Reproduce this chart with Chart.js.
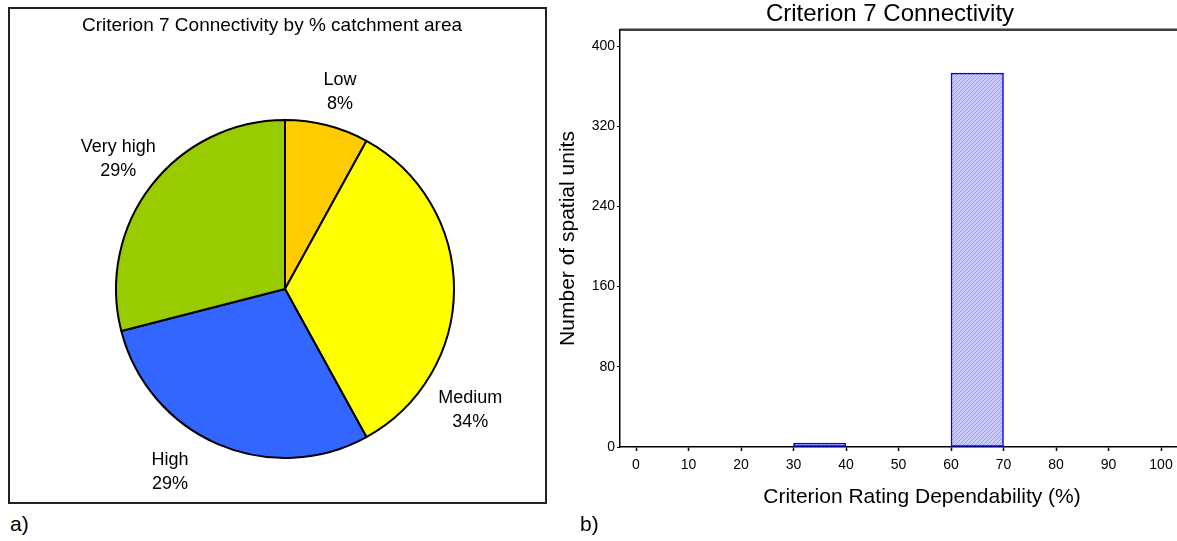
<!DOCTYPE html>
<html>
<head>
<meta charset="utf-8">
<title>Criterion 7 Connectivity</title>
<script src="https://cdn.jsdelivr.net/npm/chart.js@4.4.1/dist/chart.umd.min.js"></script>
<style>
  html, body { margin: 0; padding: 0; background: #fff; width: 1177px; height: 541px; overflow: hidden; }
  body { position: relative; font-family: "Liberation Sans", Arial, sans-serif; }
  #pieBox { position: absolute; left: 8px; top: 7px; width: 535px; height: 493px; border: 2px solid #222; }
  #pieCanvas { position: absolute; left: 0; top: 0; }
  #barCanvas { position: absolute; left: 556px; top: 0; }
  .tag { position: absolute; font-size: 21px; color: #000; line-height: 24px; }
</style>
</head>
<body>
<div id="pieBox"></div>
<canvas id="pieCanvas" width="560" height="510"></canvas>
<canvas id="barCanvas" width="668" height="541"></canvas>
<div class="tag" style="left:10px; top:512px;">a)</div>
<div class="tag" style="left:580px; top:512px;">b)</div>

<script>
// ---- Panel a: share of catchment area per connectivity class ----
const pieCategories = ['Low', 'Medium', 'High', 'Very high'];
const pieShares = [8, 34, 29, 29];
const pieColours = ['#FFCC00', '#FFFF00', '#3366FF', '#99CC00'];

// ---- Panel b: histogram of criterion rating dependability ----
const binStarts = [0, 10, 20, 30, 40, 50, 60, 70, 80, 90];
const binEnds = [10, 20, 30, 40, 50, 60, 70, 80, 90, 100];
const unitCounts = [0, 0, 0, 4, 0, 0, 373, 0, 0, 0];
const xTickValues = [0, 10, 20, 30, 40, 50, 60, 70, 80, 90, 100];
const yTickValues = [0, 80, 160, 240, 320, 400];

const FONT = '"Liberation Sans", Arial, sans-serif';

// Heading drawn at a fixed spot inside the framed panel
const panelHeading = {
  id: 'panelHeading',
  afterDraw(chart, args, opts) {
    const ctx = chart.ctx;
    ctx.save();
    ctx.font = opts.size + 'px ' + FONT;
    ctx.fillStyle = '#000';
    ctx.textAlign = 'center';
    ctx.textBaseline = 'middle';
    ctx.fillText(opts.text, opts.x, opts.y);
    ctx.restore();
  }
};

// Two-line category / percentage labels outside each slice
const sliceLabels = {
  id: 'sliceLabels',
  afterDatasetsDraw(chart, args, opts) {
    const ctx = chart.ctx;
    const arcs = chart.getDatasetMeta(0).data;
    ctx.save();
    ctx.font = opts.size + 'px ' + FONT;
    ctx.fillStyle = '#000';
    ctx.textAlign = 'center';
    ctx.textBaseline = 'middle';
    arcs.forEach((arc, i) => {
      const mid = (arc.startAngle + arc.endAngle) / 2 + opts.angleShift[i] * Math.PI / 180;
      const r = arc.outerRadius * opts.radiusScale[i];
      const cx = arc.x + r * Math.cos(mid);
      const cy = arc.y + r * Math.sin(mid);
      ctx.fillText(pieCategories[i], cx, cy - opts.lineGap / 2);
      ctx.fillText(pieShares[i] + '%', cx, cy + opts.lineGap / 2);
    });
    ctx.restore();
  }
};

new Chart(document.getElementById('pieCanvas'), {
  type: 'pie',
  data: {
    labels: pieCategories,
    datasets: [{
      data: pieShares,
      backgroundColor: pieColours,
      borderColor: '#000',
      borderWidth: 2
    }]
  },
  options: {
    responsive: false,
    animation: false,
    radius: 169,
    layout: { padding: { left: 115, right: 105, top: 119, bottom: 51 } },
    plugins: {
      legend: { display: false },
      tooltip: { enabled: false },
      panelHeading: { text: 'Criterion 7 Connectivity by % catchment area', x: 272, y: 26, size: 19 },
      sliceLabels: {
        size: 18,
        lineGap: 24,
        angleShift: [1.2, 33.2, 8.7, 0.1],
        radiusScale: [1.21, 1.31, 1.28, 1.25]
      }
    }
  },
  plugins: [panelHeading, sliceLabels]
});

// Fine diagonal hatch used to fill the histogram bars
function makeHatch() {
  const c = document.createElement('canvas');
  c.width = 4; c.height = 4;
  const g = c.getContext('2d');
  g.fillStyle = '#c9c9fb';
  g.fillRect(0, 0, 4, 4);
  g.strokeStyle = '#9d9df0';
  g.lineWidth = 1;
  g.beginPath();
  g.moveTo(0, 4); g.lineTo(4, 0);
  g.moveTo(-1, 1); g.lineTo(1, -1);
  g.moveTo(3, 5); g.lineTo(5, 3);
  g.stroke();
  return g.createPattern(c, 'repeat');
}

// Double rule along the top of the plot area
const topRule = {
  id: 'topRule',
  afterDraw(chart) {
    const { ctx, chartArea: a } = chart;
    ctx.save();
    ctx.strokeStyle = '#999';
    ctx.lineWidth = 1;
    ctx.beginPath();
    ctx.moveTo(a.left, a.top - 1.5); ctx.lineTo(a.right, a.top - 1.5);
    ctx.stroke();
    ctx.strokeStyle = '#000';
    ctx.lineWidth = 1.5;
    ctx.beginPath();
    ctx.moveTo(a.left - 0.75, a.top); ctx.lineTo(a.right, a.top);
    ctx.stroke();
    ctx.restore();
  }
};

const tickFont = { family: FONT, size: 14 };
const axisTitleFont = { family: FONT, size: 21, weight: 'normal' };

new Chart(document.getElementById('barCanvas'), {
  type: 'bar',
  data: {
    datasets: [{
      data: binStarts.map((s, i) => ({ x: (s + binEnds[i]) / 2, y: unitCounts[i] })),
      backgroundColor: makeHatch(),
      borderColor: '#0000ff',
      borderWidth: 1.5,
      borderSkipped: false,
      barPercentage: 1,
      categoryPercentage: 1
    }]
  },
  options: {
    responsive: false,
    animation: false,
    layout: { padding: 0 },
    plugins: {
      legend: { display: false },
      tooltip: { enabled: false },
      title: {
        display: true,
        text: 'Criterion 7 Connectivity',
        color: '#000',
        font: { family: FONT, size: 24, weight: 'normal' },
        padding: { top: 0, bottom: 1.2 }
      }
    },
    scales: {
      x: {
        type: 'linear',
        min: -3.05,
        max: 112,
        offset: false,
        afterBuildTicks: s => { s.ticks = xTickValues.map(v => ({ value: v })); },
        afterFit: s => { s.height = 94; },
        ticks: { color: '#000', font: tickFont, padding: 5.5, maxRotation: 0, autoSkip: false },
        grid: { offset: false, drawOnChartArea: false, color: '#000', tickLength: 4, tickWidth: 1.5 },
        border: { color: '#000', width: 1.5 },
        title: {
          display: true,
          text: 'Criterion Rating Dependability (%)',
          color: '#000',
          font: axisTitleFont,
          padding: { top: 0, bottom: 31.4 }
        }
      },
      y: {
        min: 0,
        max: 416,
        afterBuildTicks: s => { s.ticks = yTickValues.map(v => ({ value: v })); },
        afterFit: s => { s.width = 64; },
        ticks: { color: '#000', font: tickFont, padding: 2 },
        grid: { drawOnChartArea: false, color: '#000', tickLength: 3, tickWidth: 1 },
        border: { color: '#000', width: 1.5 },
        title: {
          display: true,
          text: 'Number of spatial units',
          color: '#000',
          font: axisTitleFont,
          padding: { top: 0, bottom: 0 }
        }
      }
    }
  },
  plugins: [topRule]
});
</script>
</body>
</html>
